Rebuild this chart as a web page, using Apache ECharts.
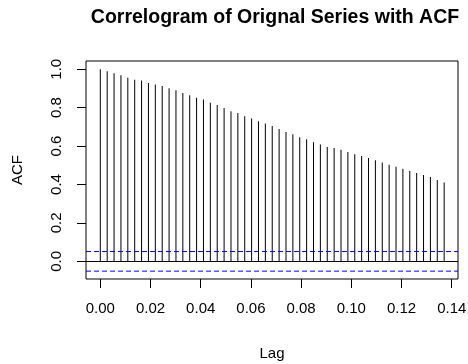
<!DOCTYPE html>
<html>
<head>
<meta charset="utf-8">
<script src="https://cdn.jsdelivr.net/npm/echarts@6/dist/echarts.min.js"></script>
<style>
  html, body { margin: 0; padding: 0; background: #fff; }
  #chart { width: 468px; height: 364px; }
</style>
</head>
<body>
<div id="chart"></div>
<script>
// lag in days, shown on the axis as a fraction of a year (frequency 365)
const lagDays = Array.from({ length: 51 }, (_, i) => i)
const frequency = 365
// acf values
const acfValues = [
  1.000, 0.990, 0.979, 0.969, 0.956, 0.946, 0.941, 0.929, 0.920, 0.913,
  0.901, 0.891, 0.877, 0.865, 0.852, 0.842, 0.826, 0.814, 0.798, 0.781,
  0.772, 0.755, 0.744, 0.729, 0.717, 0.705, 0.689, 0.673, 0.661, 0.646,
  0.635, 0.620, 0.608, 0.595, 0.590, 0.581, 0.569, 0.557, 0.548, 0.538,
  0.526, 0.514, 0.503, 0.493, 0.482, 0.470, 0.460, 0.449, 0.439, 0.423,
  0.411
]
const xTicks = [0, 0.02, 0.04, 0.06, 0.08, 0.10, 0.12, 0.14]
const yTicks = [0, 0.2, 0.4, 0.6, 0.8, 1.0]
const ciUpper = 0.051
const ciLower = -0.051

const xMin = -0.0057
const xMax = 0.1425
const seriesData = lagDays.map((d, i) => [d / frequency, acfValues[i]])

const font = 'Liberation Sans, Arial, sans-serif'

// dashed blue confidence bound across the whole plot
function boundSeries(v) {
  return {
    type: 'line',
    silent: true,
    symbol: 'none',
    data: [[xMin, v], [xMax, v]],
    itemStyle: { color: '#0000ff' },
    lineStyle: { color: '#0000ff', width: 1, type: [5, 3] },
    z: 3
  }
}

const myChart = echarts.init(document.getElementById('chart'), null, { renderer: 'canvas' })
const option = {
  animation: false,
  backgroundColor: '#fff',
  title: {
    text: 'Correlogram of Orignal Series with ACF',
    left: 270,
    top: 3,
    textAlign: 'center',
    textStyle: { fontFamily: font, fontSize: 19.5, fontWeight: 'bold', color: '#000' }
  },
  grid: {
    left: 86,
    right: 10,
    top: 61,
    bottom: 85,
    containLabel: false,
    outerBoundsMode: 'none',
    show: true,
    borderColor: '#000',
    borderWidth: 1,
    backgroundColor: 'transparent'
  },
  xAxis: {
    type: 'value',
    min: xMin,
    max: xMax,
    name: 'Lag',
    nameLocation: 'middle',
    nameGap: 67,
    nameTextStyle: { fontFamily: font, fontSize: 15, color: '#000' },
    axisLine: { show: false, onZero: false },
    splitLine: { show: false },
    axisTick: {
      show: true,
      inside: false,
      length: 9,
      customValues: xTicks,
      lineStyle: { color: '#000' }
    },
    axisLabel: {
      customValues: xTicks,
      margin: 22,
      fontFamily: font,
      fontSize: 15,
      color: '#000',
      formatter: v => v.toFixed(2)
    }
  },
  yAxis: {
    type: 'value',
    min: -0.092,
    max: 1.043,
    name: 'ACF',
    nameLocation: 'middle',
    nameGap: 61,
    nameRotate: 90,
    nameTextStyle: { fontFamily: font, fontSize: 15, color: '#000' },
    axisLine: { show: false, onZero: false },
    splitLine: { show: false },
    axisTick: {
      show: true,
      inside: false,
      length: 9,
      customValues: yTicks,
      lineStyle: { color: '#000' }
    },
    axisLabel: {
      customValues: yTicks,
      rotate: 90,
      margin: 22,
      fontFamily: font,
      fontSize: 15,
      color: '#000',
      formatter: v => v.toFixed(1)
    }
  },
  series: [
    {
      type: 'bar',
      data: seriesData,
      barWidth: 1,
      itemStyle: { color: '#000' },
      silent: true,
      markLine: {
        silent: true,
        symbol: 'none',
        label: { show: false },
        lineStyle: { color: '#000', type: 'solid', width: 1 },
        data: [{ yAxis: 0 }]
      }
    },
    boundSeries(ciUpper),
    boundSeries(ciLower)
  ]
}
myChart.setOption(option)
window.addEventListener('resize', () => {
  myChart.resize()
})
</script>
</body>
</html>
